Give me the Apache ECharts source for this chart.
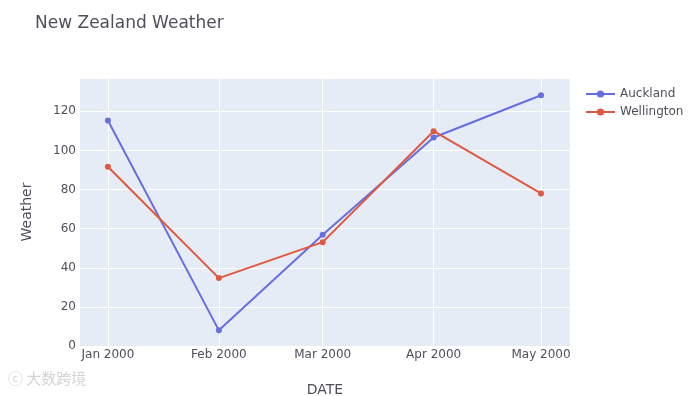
<!DOCTYPE html>
<html>
<head>
<meta charset="utf-8">
<script src="https://cdn.jsdelivr.net/npm/echarts@6/dist/echarts.min.js"></script>
<style>
  html, body { margin: 0; padding: 0; background: #fff; }
  #main { width: 700px; height: 396px; }
</style>
</head>
<body>
<div id="main"></div>
<script>
const dates = ['2000-01-01', '2000-02-01', '2000-03-01', '2000-04-01', '2000-05-01'];
const tickLabels = ['Jan 2000', 'Feb 2000', 'Mar 2000', 'Apr 2000', 'May 2000'];
const auckland = [115.3, 8.0, 56.9, 106.6, 128.2];
const wellington = [91.6, 34.7, 53.1, 109.8, 78.0];

const DAY = 86400000;
const stamps = dates.map(d => Date.parse(d + 'T00:00:00Z'));
const pair = (vals) => vals.map((v, i) => [stamps[i], v]);

const font = '"DejaVu Sans", Verdana, sans-serif';
const textColor = '#4f4f5c';

const chart = echarts.init(document.getElementById('main'));
chart.setOption({
  useUTC: true,
  animation: false,
  title: {
    text: 'New Zealand Weather',
    left: 30,
    top: 10,
    textStyle: { fontFamily: font, fontSize: 17, fontWeight: 'normal', color: textColor }
  },
  legend: {
    orient: 'vertical',
    left: 580,
    top: 83,
    itemGap: 6,
    itemWidth: 29,
    itemHeight: 9,
    textStyle: { fontFamily: font, fontSize: 12, color: textColor },
    data: ['Auckland', 'Wellington']
  },
  grid: {
    left: 80,
    right: 130,
    top: 78,
    bottom: 50,
    outerBoundsMode: 'none',
    containLabel: false,
    show: true,
    backgroundColor: '#E5ECF6',
    borderWidth: 0
  },
  xAxis: {
    type: 'time',
    min: stamps[0] - 7.8 * DAY,
    max: stamps[4] + 8.1 * DAY,
    minInterval: 28 * DAY,
    maxInterval: 31 * DAY,
    name: 'DATE',
    nameLocation: 'middle',
    nameGap: 37,
    nameTextStyle: { fontFamily: font, fontSize: 14, color: textColor },
    axisLine: { show: false },
    axisTick: { show: false },
    splitLine: { show: true, showMinLine: false, showMaxLine: false, lineStyle: { color: '#fff', width: 1 } },
    axisLabel: {
      fontFamily: font,
      fontSize: 12,
      color: textColor,
      margin: 3,
      showMinLabel: false,
      showMaxLabel: false,
      hideOverlap: false,
      formatter: function (value) {
        const idx = stamps.indexOf(value);
        return idx >= 0 ? tickLabels[idx] : '';
      }
    }
  },
  yAxis: {
    type: 'value',
    min: 0,
    max: 137,
    interval: 20,
    name: 'Weather',
    nameLocation: 'middle',
    nameGap: 46,
    nameTextStyle: { fontFamily: font, fontSize: 14, color: textColor },
    axisLine: { show: false },
    axisTick: { show: false },
    splitLine: { show: true, showMinLine: false, lineStyle: { color: '#fff', width: 1 } },
    axisLabel: { fontFamily: font, fontSize: 12, color: textColor, margin: 4, showMaxLabel: false }
  },
  graphic: [{
    type: 'text',
    left: 8,
    top: 371,
    style: { text: 'ⓒ 大数跨境', fill: '#d4d4d4', font: '15px "Noto Sans CJK SC", sans-serif' }
  }],
  series: [
    {
      name: 'Auckland',
      type: 'line',
      data: pair(auckland),
      symbol: 'circle',
      symbolSize: 6,
      color: '#666fe0',
      lineStyle: { width: 2 }
    },
    {
      name: 'Wellington',
      type: 'line',
      data: pair(wellington),
      symbol: 'circle',
      symbolSize: 6,
      color: '#e0583f',
      lineStyle: { width: 2 }
    }
  ]
});
</script>
</body>
</html>
